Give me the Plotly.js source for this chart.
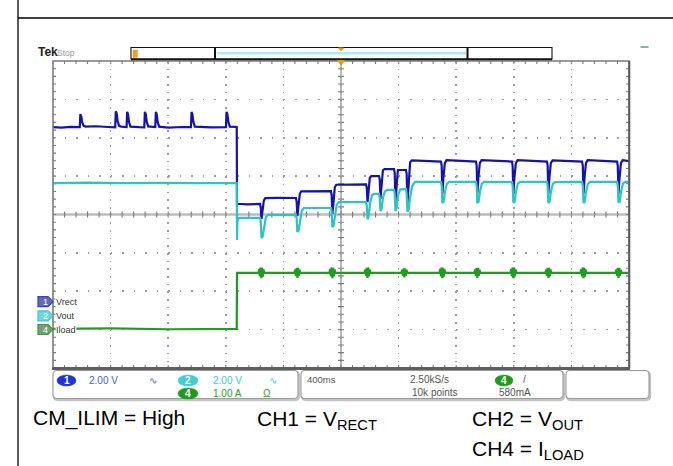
<!DOCTYPE html>
<html>
<head>
<meta charset="utf-8">
<script src="https://cdn.plot.ly/plotly-3.0.1.min.js"></script>
<style>html,body{margin:0;padding:0;background:#fff;}#chart{width:673px;height:466px;}</style>
</head>
<body>
<div id="chart"></div>
<script>
// ---- Data (time in ms, 400 ms/div, 10 divisions) ----
// CH1 = VRECT (V), 2.00 V/div
const t1 = [0,60,120,186,190,196,203,213,228,300,380,432,436,442,449,459,474,511,515,521,528,538,600,634,638,644,651,661,710,714,720,727,737,800,900,958,962,968,975,985,1100,1201,1205,1211,1218,1228,1276,1278,1286,1350,1438,1443,1448,1455,1464,1474,1560,1687,1692,1697,1704,1714,1724,1820,1930,1935,1940,1947,1957,1967,2070,2174,2179,2184,2191,2200,2210,2264,2269,2274,2281,2291,2302,2368,2373,2378,2385,2395,2451,2456,2461,2468,2480,2492,2600,2694,2699,2704,2711,2721,2733,2840,2937,2942,2947,2954,2964,2976,3090,3187,3192,3197,3204,3214,3226,3330,3430,3435,3440,3447,3457,3469,3580,3674,3679,3684,3691,3701,3713,3820,3917,3922,3927,3934,3944,3956,4000];
const vRect = [9.05,9.03,9.07,9.05,9.73,9.62,9.30,9.12,9.08,9.10,9.06,9.04,9.88,9.78,9.36,9.12,9.08,9.06,9.85,9.74,9.32,9.08,9.05,9.04,9.85,9.74,9.33,9.09,9.06,9.84,9.73,9.31,9.08,9.03,9.06,9.05,9.84,9.73,9.32,9.08,9.04,9.05,9.85,9.74,9.32,9.08,9.06,5.00,5.06,5.03,5.05,4.85,4.27,4.70,5.22,5.35,5.37,5.36,5.18,4.42,4.85,5.58,5.71,5.72,5.72,5.52,4.53,5.05,5.92,6.05,6.07,6.07,5.90,5.15,5.65,6.42,6.50,6.50,6.32,5.31,5.95,6.80,6.87,6.87,6.68,5.15,5.85,6.82,6.82,6.62,5.05,5.90,7.22,7.32,7.29,7.26,7.05,5.57,6.40,7.18,7.33,7.29,7.26,7.05,5.58,6.42,7.18,7.33,7.28,7.26,7.04,5.56,6.40,7.17,7.33,7.29,7.26,7.05,5.57,6.41,7.18,7.32,7.28,7.26,7.05,5.58,6.40,7.18,7.33,7.29,7.26,7.04,5.57,6.40,7.18,7.33,7.28];

// CH2 = VOUT (V), 2.00 V/div
const t2 = [0,250,500,750,1000,1276,1278,1281,1290,1438,1443,1448,1456,1466,1478,1492,1687,1692,1697,1705,1715,1728,1742,1930,1935,1940,1948,1958,1970,1985,2174,2179,2184,2192,2202,2215,2230,2264,2269,2274,2282,2292,2305,2320,2368,2373,2378,2386,2396,2410,2451,2456,2461,2470,2480,2495,2515,2694,2699,2704,2712,2722,2735,2750,2937,2942,2947,2955,2965,2978,2993,3187,3192,3197,3205,3215,3228,3243,3430,3435,3440,3448,3458,3471,3486,3674,3679,3684,3692,3702,3715,3730,3917,3922,3927,3935,3945,3958,3973,4000];
const vOut = [6.94,6.96,6.93,6.95,6.93,6.94,3.97,5.00,5.12,5.12,4.90,4.08,4.15,4.70,5.15,5.28,5.28,5.10,4.39,4.45,5.00,5.50,5.64,5.64,5.45,4.65,4.72,5.30,5.80,5.95,5.95,5.78,5.05,5.20,5.90,6.30,6.37,6.37,6.20,5.48,5.60,6.20,6.50,6.58,6.58,6.40,5.48,5.60,6.30,6.60,6.63,6.40,5.45,5.55,6.20,6.80,7.00,7.00,6.80,5.90,5.95,6.50,6.90,7.00,7.00,6.80,5.90,5.95,6.50,6.90,7.00,6.99,6.80,5.91,5.96,6.50,6.90,7.00,7.00,6.80,5.90,5.95,6.50,6.90,6.99,7.00,6.80,5.90,5.95,6.51,6.90,7.00,7.00,6.80,5.92,5.96,6.50,6.90,7.00,7.00];

// CH4 = ILOAD (A), 1.00 A/div
const t4 = [0,400,800,1276,1278,
 1427,1432,1437,1442,1447,1452,1457,1462,1467,
 1677,1682,1687,1692,1697,1702,1707,1712,1717,
 1920,1925,1930,1935,1940,1945,1950,1955,1960,
 2164,2169,2174,2179,2184,2189,2194,2199,2204,
 2420,2425,2430,2435,2440,2445,2450,2455,2460,
 2684,2689,2694,2699,2704,2709,2714,2719,2724,
 2927,2932,2937,2942,2947,2952,2957,2962,2967,
 3177,3182,3187,3192,3197,3202,3207,3212,3217,
 3420,3425,3430,3435,3440,3445,3450,3455,3460,
 3664,3669,3674,3679,3684,3689,3694,3699,3704,
 3907,3912,3917,3922,3927,3932,3937,3942,3947,
 4000];
const iLoad = [0.02,0.03,0.01,0.02,1.48,
 1.48,1.58,1.39,1.62,1.34,1.61,1.38,1.57,1.48,
 1.48,1.57,1.40,1.61,1.35,1.61,1.40,1.56,1.48,
 1.48,1.58,1.39,1.62,1.34,1.61,1.39,1.57,1.48,
 1.48,1.57,1.40,1.61,1.35,1.62,1.39,1.57,1.48,
 1.48,1.56,1.40,1.60,1.36,1.60,1.40,1.56,1.48,
 1.48,1.58,1.39,1.62,1.34,1.61,1.38,1.57,1.48,
 1.48,1.57,1.40,1.61,1.35,1.61,1.40,1.56,1.48,
 1.48,1.58,1.39,1.62,1.34,1.62,1.39,1.57,1.48,
 1.48,1.57,1.40,1.61,1.35,1.61,1.39,1.57,1.48,
 1.48,1.58,1.39,1.62,1.34,1.61,1.38,1.57,1.48,
 1.48,1.57,1.40,1.61,1.35,1.61,1.40,1.56,1.48,
 1.48];

// ---- Geometry (pixels) ----
const L = 53, R = 629, T = 61, B = 368;
const W = R - L, H = B - T;
const X = px => (px - L) / W;
const Y = py => (B - py) / H;

const traces = [
  {x: [], y: [], xaxis: 'x', yaxis: 'y', hoverinfo: 'skip', showlegend: false},
  {x: t2, y: vOut, yaxis: 'y3', mode: 'lines', line: {color: '#2ec4c4', width: 2.2}, hoverinfo: 'skip'},
  {x: t1, y: vRect, yaxis: 'y2', mode: 'lines', line: {color: '#1414a6', width: 2.2}, hoverinfo: 'skip'},
  {x: t4, y: iLoad, yaxis: 'y4', mode: 'lines', line: {color: '#1e9e1e', width: 2.2}, hoverinfo: 'skip'}
];

const shapes = [];
const ann = [];
const P = (px, py) => X(px).toFixed(5) + ',' + Y(py).toFixed(5);

// outer frame lines
shapes.push({type: 'line', xref: 'paper', yref: 'paper', x0: X(18), x1: X(18), y0: Y(0), y1: Y(466), line: {color: '#000', width: 1.3}});
shapes.push({type: 'line', xref: 'paper', yref: 'paper', x0: X(18), x1: X(673), y0: Y(18), y1: Y(18), line: {color: '#000', width: 1.3}});

// center cross
shapes.push({type: 'line', xref: 'paper', yref: 'paper', layer: 'below', x0: 0, x1: 1, y0: 0.5, y1: 0.5, line: {color: '#bdbdbd', width: 2.6}});
shapes.push({type: 'line', xref: 'paper', yref: 'paper', layer: 'below', x0: 0.5, x1: 0.5, y0: 0, y1: 1, line: {color: '#8a8a8a', width: 1.2}});

// ticks
let tp = '';
const xc = L + W / 2, yc = T + H / 2;
for (let i = 1; i < 50; i++) {
  const px = L + i * W / 50;
  tp += 'M' + P(px, T) + 'L' + P(px, T + 3);
  tp += 'M' + P(px, B) + 'L' + P(px, B - 3);
  tp += 'M' + P(px, yc - 3) + 'L' + P(px, yc + 3);
}
for (let j = 1; j < 40; j++) {
  const py = T + j * H / 40;
  tp += 'M' + P(L, py) + 'L' + P(L + 3, py);
  tp += 'M' + P(R, py) + 'L' + P(R - 3, py);
  tp += 'M' + P(xc - 3, py) + 'L' + P(xc + 3, py);
}
shapes.push({type: 'path', xref: 'paper', yref: 'paper', layer: 'below', path: tp, line: {color: '#7c7c7c', width: 1.1}});

// graticule border
shapes.push({type: 'rect', xref: 'paper', yref: 'paper', x0: 0, x1: 1, y0: 0, y1: 1, line: {color: '#7a7a7a', width: 1.6}});
shapes.push({type: 'line', xref: 'paper', yref: 'paper', x0: X(L - 1), x1: X(R + 1), y0: Y(B + 0.5), y1: Y(B + 0.5), line: {color: '#5e5e5e', width: 3}});
shapes.push({type: 'line', xref: 'paper', yref: 'paper', x0: X(R + 0.3), x1: X(R + 0.3), y0: Y(T), y1: Y(B), line: {color: '#5e5e5e', width: 2}});

// record bar
shapes.push({type: 'rect', xref: 'paper', yref: 'paper', x0: X(131), x1: X(552), y0: Y(59), y1: Y(47.5), line: {color: '#111', width: 1.1}, fillcolor: '#fff'});
shapes.push({type: 'line', xref: 'paper', yref: 'paper', x0: X(131), x1: X(552), y0: Y(59.3), y1: Y(59.3), line: {color: '#111', width: 1.8}});
shapes.push({type: 'line', xref: 'paper', yref: 'paper', x0: X(217), x1: X(466), y0: Y(53.3), y1: Y(53.3), line: {color: '#a6eef0', width: 2.6}});
shapes.push({type: 'line', xref: 'paper', yref: 'paper', x0: X(215), x1: X(215), y0: Y(47.5), y1: Y(59.5), line: {color: '#111', width: 2}});
shapes.push({type: 'line', xref: 'paper', yref: 'paper', x0: X(467.5), x1: X(467.5), y0: Y(47.5), y1: Y(59.5), line: {color: '#111', width: 2}});
// orange markers
shapes.push({type: 'path', xref: 'paper', yref: 'paper', path: 'M' + P(338.5, 48) + 'L' + P(343.5, 48) + 'L' + P(341, 51) + 'Z', fillcolor: '#f09a10', line: {color: '#f09a10', width: 1}});
shapes.push({type: 'path', xref: 'paper', yref: 'paper', path: 'M' + P(337.5, 60.5) + 'L' + P(344.5, 60.5) + 'L' + P(341, 65) + 'Z', fillcolor: '#f09a10', line: {color: '#f09a10', width: 1}});
shapes.push({type: 'rect', xref: 'paper', yref: 'paper', x0: X(133), x1: X(137.5), y0: Y(57.5), y1: Y(50), fillcolor: '#f0a020', line: {color: '#f0a020', width: 0.5}});
// small dash top right
shapes.push({type: 'line', xref: 'paper', yref: 'paper', x0: X(640.5), x1: X(648.5), y0: Y(47), y1: Y(47), line: {color: '#8aa4a8', width: 1.8}});

// channel ground markers
function marker(cy, fill, edge) {
  shapes.push({type: 'path', xref: 'paper', yref: 'paper',
    path: 'M' + P(38, cy - 5) + 'L' + P(48, cy - 5) + 'L' + P(53, cy) + 'L' + P(48, cy + 5) + 'L' + P(38, cy + 5) + 'Z',
    fillcolor: fill, line: {color: edge, width: 1.2}});
}
marker(301.7, '#6c6c9c', '#2b3cf0');
marker(315.8, '#6fd6d6', '#3ec8c8');
marker(329.5, '#7a9e7a', '#3a9a3a');

// rounded boxes of the readout
function rbox(x0, y0, x1, y1, r) {
  return 'M' + P(x0 + r, y0) + 'L' + P(x1 - r, y0) + 'Q' + P(x1, y0) + ' ' + P(x1, y0 + r) +
    'L' + P(x1, y1 - r) + 'Q' + P(x1, y1) + ' ' + P(x1 - r, y1) + 'L' + P(x0 + r, y1) +
    'Q' + P(x0, y1) + ' ' + P(x0, y1 - r) + 'L' + P(x0, y0 + r) + 'Q' + P(x0, y0) + ' ' + P(x0 + r, y0) + 'Z';
}
[[53, 298], [301, 563], [566, 649]].forEach(b => {
  shapes.push({type: 'path', xref: 'paper', yref: 'paper', path: rbox(b[0] + 1, 372, b[1] + 1, 400, 4), fillcolor: 'rgba(0,0,0,0)', line: {color: '#c4c4c4', width: 2.4}});
  shapes.push({type: 'path', xref: 'paper', yref: 'paper', path: rbox(b[0], 370.5, b[1], 398.5, 4), fillcolor: '#fff', line: {color: '#9a9a9a', width: 1.1}});
});

// oval channel badges
function badge(x0, x1, cy, fill, label) {
  shapes.push({type: 'circle', xref: 'paper', yref: 'paper', x0: X(x0), x1: X(x1), y0: Y(cy + 5.5), y1: Y(cy - 5.5), fillcolor: fill, line: {color: fill, width: 0.5}});
  ann.push({xref: 'paper', yref: 'paper', x: X((x0 + x1) / 2), y: Y(cy), text: label, showarrow: false, xanchor: 'center', yanchor: 'middle', font: {family: 'Liberation Sans, Arial', size: 10, color: '#fff', weight: 'bold'}});
}
badge(57, 76, 380.5, '#1c34d8', '1');
badge(178, 198, 380.5, '#3fd0d0', '2');
badge(178, 198, 393.5, '#1f9a1f', '4');
badge(495, 513, 380.5, '#1f9a1f', '4');

function txt(px, py, s, size, color, anchor, extra) {
  const a = Object.assign({xref: 'paper', yref: 'paper', x: X(px), y: Y(py), text: s, showarrow: false,
    xanchor: anchor || 'left', yanchor: 'middle', font: {family: 'Liberation Sans, Arial', size: size, color: color}}, extra || {});
  ann.push(a);
}
// readout texts
txt(87, 380.5, '2.00 V', 10, '#4a5ae0');
txt(147, 380.5, '∿', 10, '#4a5ae0');
txt(211, 380.5, '2.00 V', 10, '#40c8d0');
txt(267, 380.5, '∿', 10, '#40c8d0');
txt(211, 393.5, '1.00 A', 10, '#2aa02a');
txt(261, 393.5, 'Ω', 10, '#2aa02a');
txt(305, 379, '400ms', 9.5, '#555');
txt(408, 379, '2.50kS/s', 10, '#555');
txt(410, 392.5, '10k points', 10, '#555');
txt(521, 379, '/', 10, '#555');
txt(497, 392.5, '580mA', 10, '#555');

// header
txt(36, 52, '<b>Tek</b>', 12, '#222');
txt(55, 53, 'Stop', 8.5, '#9a9a9a');

// channel labels inside graticule
txt(55, 301.5, 'Vrect', 9, '#333', 'left', {bgcolor: '#fff', borderpad: 0});
txt(55, 315.5, 'Vout', 9, '#333', 'left', {bgcolor: '#fff', borderpad: 0});
txt(55, 329.5, 'Iload', 9, '#333', 'left', {bgcolor: '#fff', borderpad: 0});
ann.push({xref: 'paper', yref: 'paper', x: X(45), y: Y(301.7), text: '1', showarrow: false, xanchor: 'center', yanchor: 'middle', font: {family: 'Liberation Sans, Arial', size: 9, color: '#fff'}});
ann.push({xref: 'paper', yref: 'paper', x: X(45), y: Y(315.8), text: '2', showarrow: false, xanchor: 'center', yanchor: 'middle', font: {family: 'Liberation Sans, Arial', size: 9, color: '#fff'}});
ann.push({xref: 'paper', yref: 'paper', x: X(45), y: Y(329.5), text: '4', showarrow: false, xanchor: 'center', yanchor: 'middle', font: {family: 'Liberation Sans, Arial', size: 9, color: '#fff'}});

// captions
txt(31, 418, 'CM_ILIM = High', 21, '#000');
txt(255, 420, 'CH1 = V<sub>RECT</sub>', 21, '#000');
txt(470, 420, 'CH2 = V<sub>OUT</sub>', 21, '#000');
txt(470, 450, 'CH4 = I<sub>LOAD</sub>', 21, '#000');

const layout = {
  width: 673, height: 466,
  margin: {l: L, r: 673 - R, t: T, b: 466 - B, pad: 0},
  paper_bgcolor: '#fff', plot_bgcolor: '#fff',
  showlegend: false,
  xaxis: {range: [0, 4000], dtick: 400, tick0: 0, showgrid: true, gridcolor: '#9c9c9c', gridwidth: 1.6,
    griddash: '1.6px,6.08px', zeroline: false, showticklabels: false, ticks: '', showline: false, fixedrange: true},
  yaxis: {range: [-4, 4], dtick: 1, tick0: 0, showgrid: true, gridcolor: '#9c9c9c', gridwidth: 1.6,
    griddash: '1.6px,9.92px', zeroline: false, showticklabels: false, ticks: '', showline: false, fixedrange: true},
  yaxis2: {range: [-3.5, 12.5], overlaying: 'y', visible: false, fixedrange: true},
  yaxis3: {range: [-2.7, 13.3], overlaying: 'y', visible: false, fixedrange: true},
  yaxis4: {range: [-1, 7], overlaying: 'y', visible: false, fixedrange: true},
  shapes: shapes,
  annotations: ann
};

Plotly.newPlot('chart', traces, layout, {displayModeBar: false, staticPlot: true});
</script>
</body>
</html>
